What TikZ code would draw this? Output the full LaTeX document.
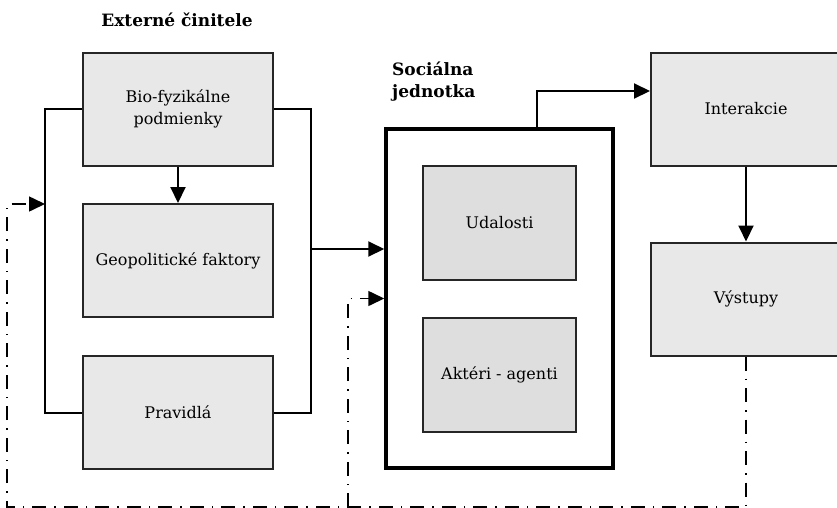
\documentclass[tikz,border=0pt]{standalone}
\usepackage{fontspec}
\setmainfont{DejaVu Serif}
\usetikzlibrary{arrows.meta}
\tikzset{gbox/.style={draw=black!85,line width=2pt,fill=black!9,minimum width=190pt,minimum height=113pt,inner sep=0pt,align=center,font=\fontsize{16}{22}\selectfont}}
\tikzset{ibox/.style={gbox,fill=black!13,minimum width=153pt,minimum height=114pt}}
\tikzset{unitbox/.style={draw,line width=3.5pt,minimum width=227pt,minimum height=339pt,inner sep=0pt}}
\tikzset{title/.style={font=\bfseries\fontsize{17}{22}\selectfont,align=left,inner sep=0pt}}
\tikzset{conn/.style={draw,line width=2pt}}
\tikzset{arr/.style={conn,-{Triangle[length=16pt,width=15pt]}}}
\tikzset{fback/.style={conn,line width=1.6pt,dash pattern=on 14pt off 8pt on 1.5pt off 8pt,-{Triangle[length=16pt,width=15pt]}}}

\begin{document}
\begin{tikzpicture}[x=1pt,y=-1pt]
    \useasboundingbox (0,0) rectangle (837,507);

    % externe cinitele
    \node[title] (ext) at (177,20) {Externé činitele};
    \node[gbox] (bio) at (178,109) {Bio-fyzikálne\\podmienky};
    \node[gbox] (geo) at (178,260.5) {Geopolitické faktory};
    \node[gbox] (prav) at (178,412.5) {Pravidlá};

    % socialna jednotka
    \node[title,anchor=north west] (soct) at (392,62) {Sociálna\\jednotka};
    \node[unitbox] (unit) at (499.5,298.5) {};
    \node[ibox] (udal) at (499.5,223) {Udalosti};
    \node[ibox] (akt) at (499.5,375) {Aktéri - agenti};

    % vystupy
    \node[gbox] (inter) at (746,109) {Interakcie};
    \node[gbox] (vys) at (746,299) {Výstupy};

    \coordinate (lbar) at (45,204);
    \coordinate (rbar) at (311,249);
    \coordinate (up) at (537,91);
    \coordinate (loopl) at (7,507);
    \coordinate (loopm) at (348,507);

    \draw[conn] (bio.west) -| (lbar) |- (prav.west);
    \draw[conn] (bio.east) -| (rbar) |- (prav.east);
    \draw[arr] (bio) -- (geo);
    \draw[arr] (rbar) -- (rbar -| unit.west);
    \draw[arr] (up |- unit.north) -- (up) -- (up -| inter.west);
    \draw[arr] (inter) -- (vys);

    % spatna vazba
    \draw[fback] (vys.south) -- (vys.south |- loopl) -- (loopl) |- (lbar);
    \draw[fback] (loopm) |- (unit.west);
\end{tikzpicture}
\end{document}
